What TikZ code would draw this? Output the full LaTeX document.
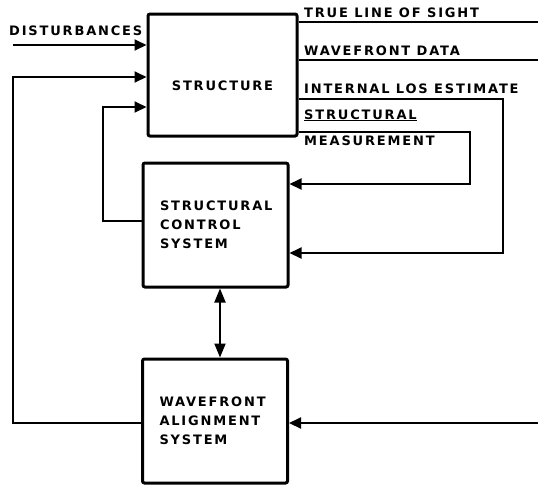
\documentclass[tikz,border=0pt]{standalone}
\usepackage{fontspec}
\newfontfamily\diafont[LetterSpace=14]{DejaVu Sans}
\usetikzlibrary{arrows.meta}

\begin{document}
\begin{tikzpicture}[
  x=1pt,y=-1pt,
  font=\diafont\bfseries\fontsize{13}{19}\selectfont,
  block/.style={draw, line width=3pt, rounded corners=2pt, inner ysep=0pt},
  sysbox/.style={block, minimum width=145pt, minimum height=124pt, inner xsep=17pt, text width=111pt, align=left},
  lbl/.style={anchor=base west, inner sep=0pt},
  arr/.style={-{Triangle[length=12pt,width=11pt]}, line width=2pt},
  dbl/.style={{Triangle[length=14pt,width=11pt]}-{Triangle[length=14pt,width=11pt]}, line width=2pt},
  wire/.style={line width=2pt}
]
\useasboundingbox (0,0) rectangle (538,488);

\node[block, minimum width=149pt, minimum height=122pt] (structure) at (222.5,75) {\raisebox{-15pt}[0pt][0pt]{STRUCTURE}};
\node[sysbox] (control) at (215.5,225) {STRUCTURAL\\CONTROL\\SYSTEM};
\node[sysbox] (align) at (215,421) {WAVEFRONT\\ALIGNMENT\\SYSTEM};

% free ends
\coordinate (dist) at (13,45);
\coordinate (los) at (538,22);
\coordinate (wfd) at (538,60);
\coordinate (wfin) at (538,423);

\node[lbl] (distlbl) at (9,35) {DISTURBANCES};
\node[lbl] (loslbl) at (304,17) {TRUE LINE OF SIGHT};
\node[lbl] (wfdlbl) at (304,55) {WAVEFRONT DATA};
\node[lbl] (estlbl) at (304,93) {INTERNAL LOS ESTIMATE};
\node[lbl] (measlbl) at (304,119) {\underline{STRUCTURAL}};
\node[lbl] (measlbl2) at (304,145) {MEASUREMENT};

\draw[arr] (dist) -- (dist -| structure.west);
\draw[arr] (align.west |- 0,423) -| (13,77) -- (structure.west |- 0,77);
\draw[arr] (control.west |- 0,221) -| (103,107) -- (structure.west |- 0,107);

\draw[wire] (structure.east |- los) -- (los);
\draw[wire] (structure.east |- wfd) -- (wfd);
\draw[arr] (structure.east |- 0,99) -| (503,253) -- (control.east |- 0,253);
\draw[arr] (structure.east |- 0,132) -| (470,184) -- (control.east |- 0,184);

\draw[dbl] (220,0 |- control.south) -- (220,0 |- align.north);
\draw[arr] (wfin) -- (align.east |- wfin);
\end{tikzpicture}
\end{document}
